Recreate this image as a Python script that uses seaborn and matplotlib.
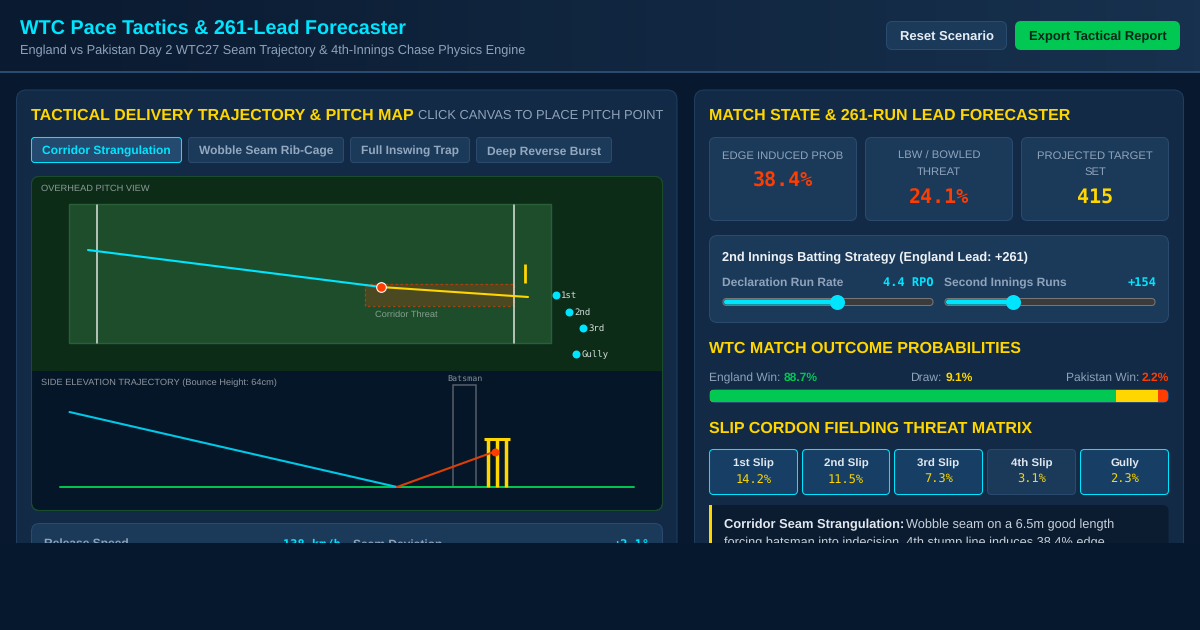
"""
Pace tactics dashboard, redrawn with seaborn on pixel sized axes.
"""
import numpy as np
import matplotlib
matplotlib.use('Agg')
import matplotlib.pyplot as plt
from matplotlib.colors import LinearSegmentedColormap
from matplotlib.patches import FancyBboxPatch, Rectangle
import seaborn as sns

# values
TABS = ['Corridor Strangulation', 'Wobble Seam Rib-Cage', 'Full Inswing Trap', 'Deep Reverse Burst']
CARD_LABELS = [['EDGE INDUCED PROB'], ['LBW / BOWLED', 'THREAT'], ['PROJECTED TARGET', 'SET']]
CARD_VALUES = ['38.4%', '24.1%', '415']

OUTCOME_NAMES = ['England Win:', 'Draw:', 'Pakistan Win:']
OUTCOME_PROBS = [88.7, 9.1, 2.2]

SLIP_NAMES = ['1st Slip', '2nd Slip', '3rd Slip', '4th Slip', 'Gully']
SLIP_THREAT = [14.2, 11.5, 7.3, 3.1, 2.3]
SLIP_QUIET = ['4th Slip']

RUN_RATE = 4.4
RUN_RATE_RANGE = [2.0, 6.4]
SECOND_RUNS = 154
SECOND_RUNS_RANGE = [0, 500]

# canvas pixels, overhead view
APPROACH_X = [56, 349]
APPROACH_Y = [73, 110]
DEVIATION_X = [349, 496]
DEVIATION_Y = [110, 120]
FIELDER_NAMES = ['1st', '2nd', '3rd', 'Gully']
FIELDER_X = [523.5, 537, 551, 544]
FIELDER_Y = [118, 134.5, 151, 177]

# canvas pixels, side view
FLIGHT_X = [37.5, 365]
FLIGHT_Y = [41, 116]
BOUNCE_X = [365, 463]
BOUNCE_Y = [116, 80.5]
GROUND_X = [28, 602]
GROUND_Y = [116, 116]

NAVY = '#08182f'
PANEL = '#122a45'
CARD = '#1b3a5a'
EDGE = '#2a4a6e'
CYAN = '#00e5ff'
GOLD = '#ffd600'
RED = '#ff3d00'
GREEN = '#00c853'
MUTED = '#8fa3bb'
SANS = 'Liberation Sans'
MONO = 'DejaVu Sans Mono'


def box(ax, x0, y0, x1, y1, r, fc, ec='none', lw=0.75, z=2):
    patch = FancyBboxPatch((x0, y0), x1 - x0, y1 - y0,
                           boxstyle='round,pad=0,rounding_size={}'.format(r),
                           fc=fc, ec=ec, lw=lw, zorder=z)
    ax.add_patch(patch)
    return patch


def label(ax, x, y, s, px, color, weight='normal', ha='left', family=SANS, z=5):
    ax.text(x, y, s, fontsize=px * 0.72, color=color, fontweight=weight, ha=ha,
            va='baseline', family=family, zorder=z)


def canvas_axes(fig, x0, y0, x1, y1):
    sub = fig.add_axes([x0 / 1200, 1 - y1 / 630, (x1 - x0) / 1200, (y1 - y0) / 630], zorder=3)
    sub.patch.set_visible(False)
    return sub


def finish_canvas(sub, w, h):
    sub.set_xlim(0, w)
    sub.set_ylim(h, 0)
    sub.axis('off')


def track(ax, x0, x1, value, limits):
    frac = (value - limits[0]) / (limits[1] - limits[0])
    knob = x0 + 8 + frac * (x1 - x0 - 16)
    box(ax, x0, 298.5, x1, 305.5, 3.5, '#3b3b3b', '#767676', 0.75, z=3)
    box(ax, x0 + 1, 299.5, knob, 304.5, 2.5, CYAN, z=4)
    ax.scatter([knob], [302], s=(15 * 0.72) ** 2, color=CYAN, zorder=5, linewidths=0)


sns.set_theme(style='white')
plt.rcParams['font.family'] = [SANS, 'DejaVu Sans']
plt.rcParams['text.hinting'] = 'no_hinting'
plt.rcParams['text.hinting_factor'] = 8

fig = plt.figure(figsize=(12, 6.3), dpi=100, facecolor=NAVY)
ax = fig.add_axes([0, 0, 1, 1], zorder=1)
ax.set_facecolor(NAVY)

# header band
head_cmap = LinearSegmentedColormap.from_list('head', ['#0a1a30', '#17314e'])
ax.imshow(np.linspace(0, 1, 600).reshape(1, -1), cmap=head_cmap, extent=[0, 1200, 71, 0],
          aspect='auto', zorder=0)
ax.add_patch(Rectangle((0, 71), 1200, 2, fc=EDGE, ec='none', zorder=1))
label(ax, 20, 34, 'WTC Pace Tactics & 261-Lead Forecaster', 19.8, CYAN, 'bold')
label(ax, 20, 54, 'England vs Pakistan Day 2 WTC27 Seam Trajectory & 4th-Innings Chase Physics Engine', 12.8, MUTED)
box(ax, 886.5, 21.5, 1006.5, 49.5, 6, CARD, EDGE)
label(ax, 947, 40, 'Reset Scenario', 13, '#e6edf5', 'bold', ha='center')
box(ax, 1015, 21, 1180, 50, 6, GREEN)
label(ax, 1097.5, 40, 'Export Tactical Report', 13, '#06281a', 'bold', ha='center')

# panels
box(ax, 16.5, 90, 677, 640, 10, PANEL, '#1f3e60')
box(ax, 694.5, 90, 1183.5, 640, 10, PANEL, '#1f3e60')

# left panel head and tabs
label(ax, 31, 120, 'TACTICAL DELIVERY TRAJECTORY & PITCH MAP', 16, GOLD, 'bold')
label(ax, 663, 118.5, 'CLICK CANVAS TO PLACE PITCH POINT', 12.9, MUTED, ha='right')
tab_edges = [(31.5, 181.5), (188.5, 343.5), (350.5, 469.5), (476.5, 611.5)]
for i, (tab, (x0, x1)) in enumerate(zip(TABS, tab_edges)):
    on = i == 0
    box(ax, x0, 137.5, x1, 162.5, 3, '#244a70' if on else CARD, CYAN if on else EDGE)
    label(ax, (x0 + x1) / 2, 154.5, tab, 12, CYAN if on else '#93a8bf', 'bold', ha='center')

# canvas backdrop
frame = box(ax, 31.5, 176.5, 662.5, 510.5, 8, '#051628', '#1b4d2c', z=2)
top = Rectangle((31.5, 176.5), 631, 194.5, fc='#0c2c18', ec='none', zorder=2)
ax.add_patch(top)
top.set_clip_path(frame)
frame_line = box(ax, 31.5, 176.5, 662.5, 510.5, 8, 'none', '#1b4d2c', z=3)
label(ax, 41, 191, 'OVERHEAD PITCH VIEW', 9.3, '#8c9c98')
label(ax, 41, 385.5, 'SIDE ELEVATION TRAJECTORY (Bounce Height: 64cm)', 9.25, '#8f979e')

# overhead view
top_ax = canvas_axes(fig, 32, 177, 662, 371)
top_ax.add_patch(Rectangle((37, 27), 482, 139, fc='#1e4d2b', ec='#2a6038', lw=1.0, zorder=1))
top_ax.add_patch(Rectangle((333, 106.5), 149, 22.5, fc=RED, alpha=0.2, ec='none', zorder=2))
top_ax.add_patch(Rectangle((333, 106.5), 149, 22.5, fc='none', ec='#a8400f', ls=(0, (2, 2)), lw=0.9, zorder=2))
for crease_x in [64.7, 482]:
    top_ax.plot([crease_x, crease_x], [27.5, 166], color='#dfe3df', lw=1.1, zorder=2)
top_ax.plot([492.5, 492.5], [87, 105.5], color=GOLD, lw=2.0, solid_capstyle='butt', zorder=3)
sns.lineplot(x=APPROACH_X, y=APPROACH_Y, ax=top_ax, color=CYAN, lw=1.5, sort=False, estimator=None, zorder=4)
sns.lineplot(x=DEVIATION_X, y=DEVIATION_Y, ax=top_ax, color=GOLD, lw=1.5, sort=False, estimator=None, zorder=4)
sns.scatterplot(x=APPROACH_X[1:], y=APPROACH_Y[1:], ax=top_ax, s=48, color=RED, edgecolor='white', linewidth=0.8, zorder=5)
sns.scatterplot(x=FIELDER_X, y=FIELDER_Y, ax=top_ax, s=33, color=CYAN, linewidth=0, zorder=5)
for name, fx, fy in zip(FIELDER_NAMES, FIELDER_X, FIELDER_Y):
    top_ax.text(fx + 5.5, fy + 3, name, fontsize=6.5, color='#d5e0dc', family=MONO, va='baseline')
top_ax.text(343, 140, 'Corridor Threat', fontsize=6.66, color='#87a08f', va='baseline', family=SANS)
finish_canvas(top_ax, 630, 194)

# side view
side_ax = canvas_axes(fig, 32, 371, 662, 510)
side_ax.add_patch(Rectangle((421, 14), 22.5, 102, fc='none', ec='#565f68', lw=1.1, zorder=1))
side_ax.text(432.5, 10, 'Batsman', fontsize=6, color='#8a9299', family=MONO, ha='center', va='baseline')
sns.lineplot(x=GROUND_X, y=GROUND_Y, ax=side_ax, color=GREEN, lw=1.4, sort=False, estimator=None, zorder=2)
for stump_x in [456, 465, 474]:
    side_ax.plot([stump_x, stump_x], [68, 116], color=GOLD, lw=2.5, solid_capstyle='butt', zorder=3)
side_ax.plot([452, 478], [67.5, 67.5], color=GOLD, lw=2.2, solid_capstyle='butt', zorder=3)
sns.lineplot(x=FLIGHT_X, y=FLIGHT_Y, ax=side_ax, color='#00c8e6', lw=1.5, sort=False, estimator=None, zorder=4)
sns.lineplot(x=BOUNCE_X, y=BOUNCE_Y, ax=side_ax, color='#dc3f06', lw=1.5, sort=False, estimator=None, zorder=4)
sns.scatterplot(x=BOUNCE_X[1:], y=BOUNCE_Y[1:], ax=side_ax, s=33, color=RED, linewidth=0, zorder=5)
finish_canvas(side_ax, 630, 139)

# stat strip, cut off at the fold
box(ax, 31.5, 523.5, 662.5, 600, 8, CARD, EDGE)
label(ax, 44, 548, 'Release Speed', 12, MUTED, 'bold')
label(ax, 341, 548, '138 km/h', 12, CYAN, 'bold', ha='right', family=MONO)
label(ax, 353, 548, 'Seam Deviation', 12, MUTED, 'bold')
label(ax, 650, 548, '+2.1°', 12, CYAN, 'bold', ha='right', family=MONO)

# right panel head and cards
label(ax, 709, 120, 'MATCH STATE & 261-RUN LEAD FORECASTER', 16, GOLD, 'bold')
card_edges = [(709.5, 856.5), (865.5, 1012.5), (1021.5, 1168.5)]
card_colors = [RED, RED, GOLD]
for lines, value, color, (x0, x1) in zip(CARD_LABELS, CARD_VALUES, card_colors, card_edges):
    box(ax, x0, 137.5, x1, 220.5, 6, CARD, EDGE)
    mid = (x0 + x1) / 2
    for n, line in enumerate(lines):
        label(ax, mid, 159 + 16 * n, line, 11.2, MUTED, ha='center')
    label(ax, mid, 171 + 16 * len(lines), value, 20, color, 'bold', ha='center', family=MONO)

# batting strategy box
box(ax, 709.5, 235.5, 1168.5, 322.5, 8, CARD, EDGE)
label(ax, 722, 261, '2nd Innings Batting Strategy (England Lead: +261)', 12.75, '#eef2f6', 'bold')
label(ax, 722, 286, 'Declaration Run Rate', 12, MUTED, 'bold')
label(ax, 934, 287, '{} RPO'.format(RUN_RATE), 12, CYAN, 'bold', ha='right', family=MONO)
label(ax, 944, 286, 'Second Innings Runs', 12, MUTED, 'bold')
label(ax, 1156, 286, '+{}'.format(SECOND_RUNS), 12, CYAN, 'bold', ha='right', family=MONO)
track(ax, 723, 933, RUN_RATE, RUN_RATE_RANGE)
track(ax, 945, 1155, SECOND_RUNS, SECOND_RUNS_RANGE)

# outcome bar
label(ax, 709, 353, 'WTC MATCH OUTCOME PROBABILITIES', 16, GOLD, 'bold')
name_x = [709, 910.5, 1065.5]
name_y = [382, 381, 381]
value_x = [783.5, 945.5, 1141.5]
outcome_colors = [GREEN, GOLD, RED]
for name, prob, nx, ny, vx, color in zip(OUTCOME_NAMES, OUTCOME_PROBS, name_x, name_y, value_x, outcome_colors):
    label(ax, nx, ny, name, 12, MUTED)
    label(ax, vx, 381, '{}%'.format(prob), 12, color, 'bold')
bar_shell = box(ax, 709.5, 389.5, 1168.5, 402.5, 6, '#0b1c30', EDGE)
bar_ax = canvas_axes(fig, 710, 390, 1168, 402)
running = np.cumsum(OUTCOME_PROBS)
for total, color in zip(running[::-1], outcome_colors[::-1]):
    sns.barplot(x=[total], y=[0], orient='h', ax=bar_ax, color=color, width=1, saturation=1, linewidth=0)
bar_ax.set_xlim(0, 100)
bar_ax.set_ylim(0.5, -0.5)
bar_ax.axis('off')
for bar in bar_ax.patches:
    bar.set_clip_path(bar_shell)

# slip cordon
label(ax, 709, 433, 'SLIP CORDON FIELDING THREAT MATRIX', 16, GOLD, 'bold')
slip_edges = [(709.5, 797.5), (802.5, 889.5), (894.5, 982.5), (987.5, 1075.5), (1080.5, 1168.5)]
for name, threat, (x0, x1) in zip(SLIP_NAMES, SLIP_THREAT, slip_edges):
    quiet = name in SLIP_QUIET
    box(ax, x0, 449.5, x1, 494.5, 4, CARD if quiet else '#173f66', EDGE if quiet else CYAN)
    mid = (x0 + x1) / 2
    label(ax, mid, 467, name, 11.5, '#dfe7ef', 'bold', ha='center')
    label(ax, mid, 483, '{}%'.format(threat), 12, GOLD, ha='center', family=MONO)

# tactical note, also cut off at the fold
box(ax, 709, 505, 1168.5, 600, 6, '#0b1c30')
ax.add_patch(Rectangle((709, 505), 3, 95, fc=GOLD, ec='none', zorder=3))
label(ax, 724, 528, 'Corridor Seam Strangulation:', 12.85, '#e2e8f0', 'bold')
label(ax, 906.5, 528, 'Wobble seam on a 6.5m good length', 12.8, '#c8d1dc')
label(ax, 724, 546, 'forcing batsman into indecision. 4th stump line induces 38.4% edge', 12.8, '#c8d1dc')

# everything under the fold is hidden
ax.add_patch(Rectangle((0, 543), 1200, 87, fc='#06182e', ec='none', zorder=10))

ax.set_xlim(0, 1200)
ax.set_ylim(630, 0)
ax.axis('off')
fig.patch.set_facecolor(NAVY)

fig.savefig('out.png', dpi=100, facecolor=NAVY)
